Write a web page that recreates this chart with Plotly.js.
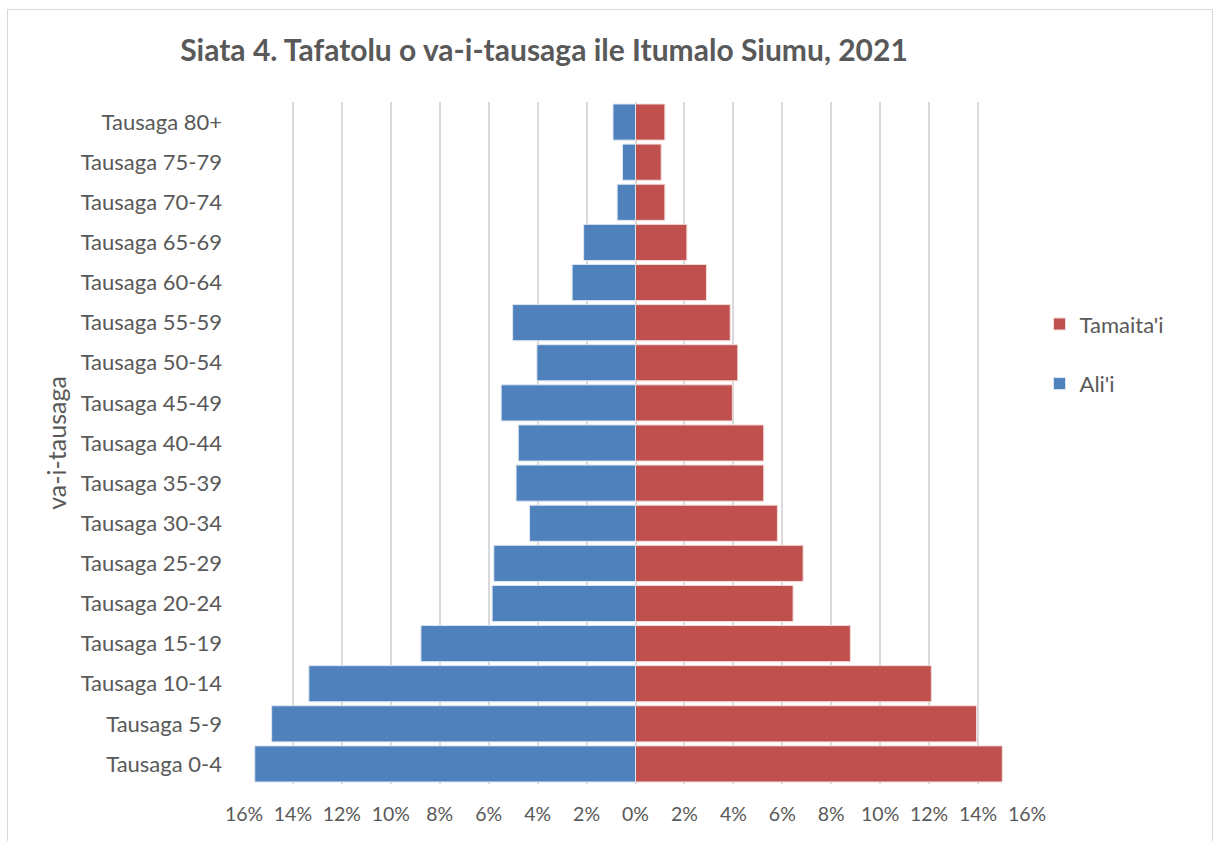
<!DOCTYPE html>
<html>
<head>
<meta charset="utf-8">
<script src="https://cdn.plot.ly/plotly-3.0.1.min.js"></script>
<style>
  html, body { margin: 0; padding: 0; background: #ffffff; }
  #frame { position: absolute; left: 7px; top: 9px; width: 1206px; height: 840px; border: 1px solid #d9d9d9; box-sizing: border-box; }
  #chart { position: absolute; left: 0; top: 0; width: 1214px; height: 841px; }
</style>
</head>
<body>
<div id="frame"></div>
<div id="chart"></div>
<script>
const categories = ["Tausaga 0-4","Tausaga 5-9","Tausaga 10-14","Tausaga 15-19","Tausaga 20-24","Tausaga 25-29","Tausaga 30-34","Tausaga 35-39","Tausaga 40-44","Tausaga 45-49","Tausaga 50-54","Tausaga 55-59","Tausaga 60-64","Tausaga 65-69","Tausaga 70-74","Tausaga 75-79","Tausaga 80+"];
// Ali'i (male) shares, percent (drawn to the left)
const alii = [15.56, 14.87, 13.35, 8.77, 5.86, 5.79, 4.33, 4.88, 4.79, 5.49, 4.03, 5.02, 2.59, 2.12, 0.75, 0.53, 0.92];
// Tamaita'i (female) shares, percent
const tamaitai = [14.99, 13.94, 12.09, 8.78, 6.44, 6.85, 5.80, 5.24, 5.24, 3.96, 4.18, 3.87, 2.90, 2.10, 1.20, 1.05, 1.20];
const tickVals = [-16,-14,-12,-10,-8,-6,-4,-2,0,2,4,6,8,10,12,14,16];
const tickText = ["16%","14%","12%","10%","8%","6%","4%","2%","0%","2%","4%","6%","8%","10%","12%","14%","16%"];

const FONT = "Lato, 'Open Sans', 'Liberation Sans', sans-serif";
const GREY = "#595959";

const traces = [
  {
    type: "bar", orientation: "h", name: "Tamaita'i",
    y: categories, x: tamaitai,
    marker: { color: "#C0504D", line: { color: "#f2dcdb", width: 1 } },
    legendgroup: "b", hoverinfo: "skip"
  },
  {
    type: "bar", orientation: "h", name: "Ali'i",
    y: categories, x: alii.map(v => -v),
    marker: { color: "#4F81BD", line: { color: "#dce6f2", width: 1 } },
    legendgroup: "a", hoverinfo: "skip"
  }
];

const layout = {
  width: 1214, height: 841,
  paper_bgcolor: "rgba(0,0,0,0)", plot_bgcolor: "rgba(0,0,0,0)",
  margin: { l: 244, r: 187, t: 102, b: 57 },
  barmode: "overlay", bargap: 0.1,
  font: { family: FONT, color: GREY, size: 19 },
  title: {
    text: "<b>Siata 4. Tafatolu o va-i-tausaga ile Itumalo Siumu, 2021</b>",
    font: { family: FONT, size: 30, color: GREY },
    x: 544 / 1214, xanchor: "center", xref: "container",
    y: 1 - 50 / 841, yanchor: "middle", yref: "container"
  },
  xaxis: {
    range: [-16, 16], tickvals: tickVals, ticktext: tickText,
    showgrid: true, gridcolor: "#d9d9d9", gridwidth: 2,
    zeroline: false, showline: false, ticks: "",
    tickfont: { family: FONT, size: 19.5, color: GREY },
    ticklabelstandoff: 16, fixedrange: true
  },
  yaxis: {
    type: "category", categoryorder: "array", categoryarray: categories,
    showgrid: false, zeroline: false, showline: false, ticks: "",
    tickfont: { family: FONT, size: 22, color: GREY },
    ticklabelstandoff: 21,
    title: { text: "va-i-tausaga", font: { family: FONT, size: 25, color: GREY }, standoff: 6 },
    fixedrange: true
  },
  showlegend: true,
  legend: {
    x: 1.016, xanchor: "left", y: 0.705, yanchor: "top",
    traceorder: "grouped", tracegroupgap: 28,
    font: { family: FONT, size: 22, color: GREY },
    bgcolor: "rgba(0,0,0,0)", itemwidth: 30
  }
};

Plotly.newPlot("chart", traces, layout, { displayModeBar: false, staticPlot: true });
</script>
</body>
</html>
